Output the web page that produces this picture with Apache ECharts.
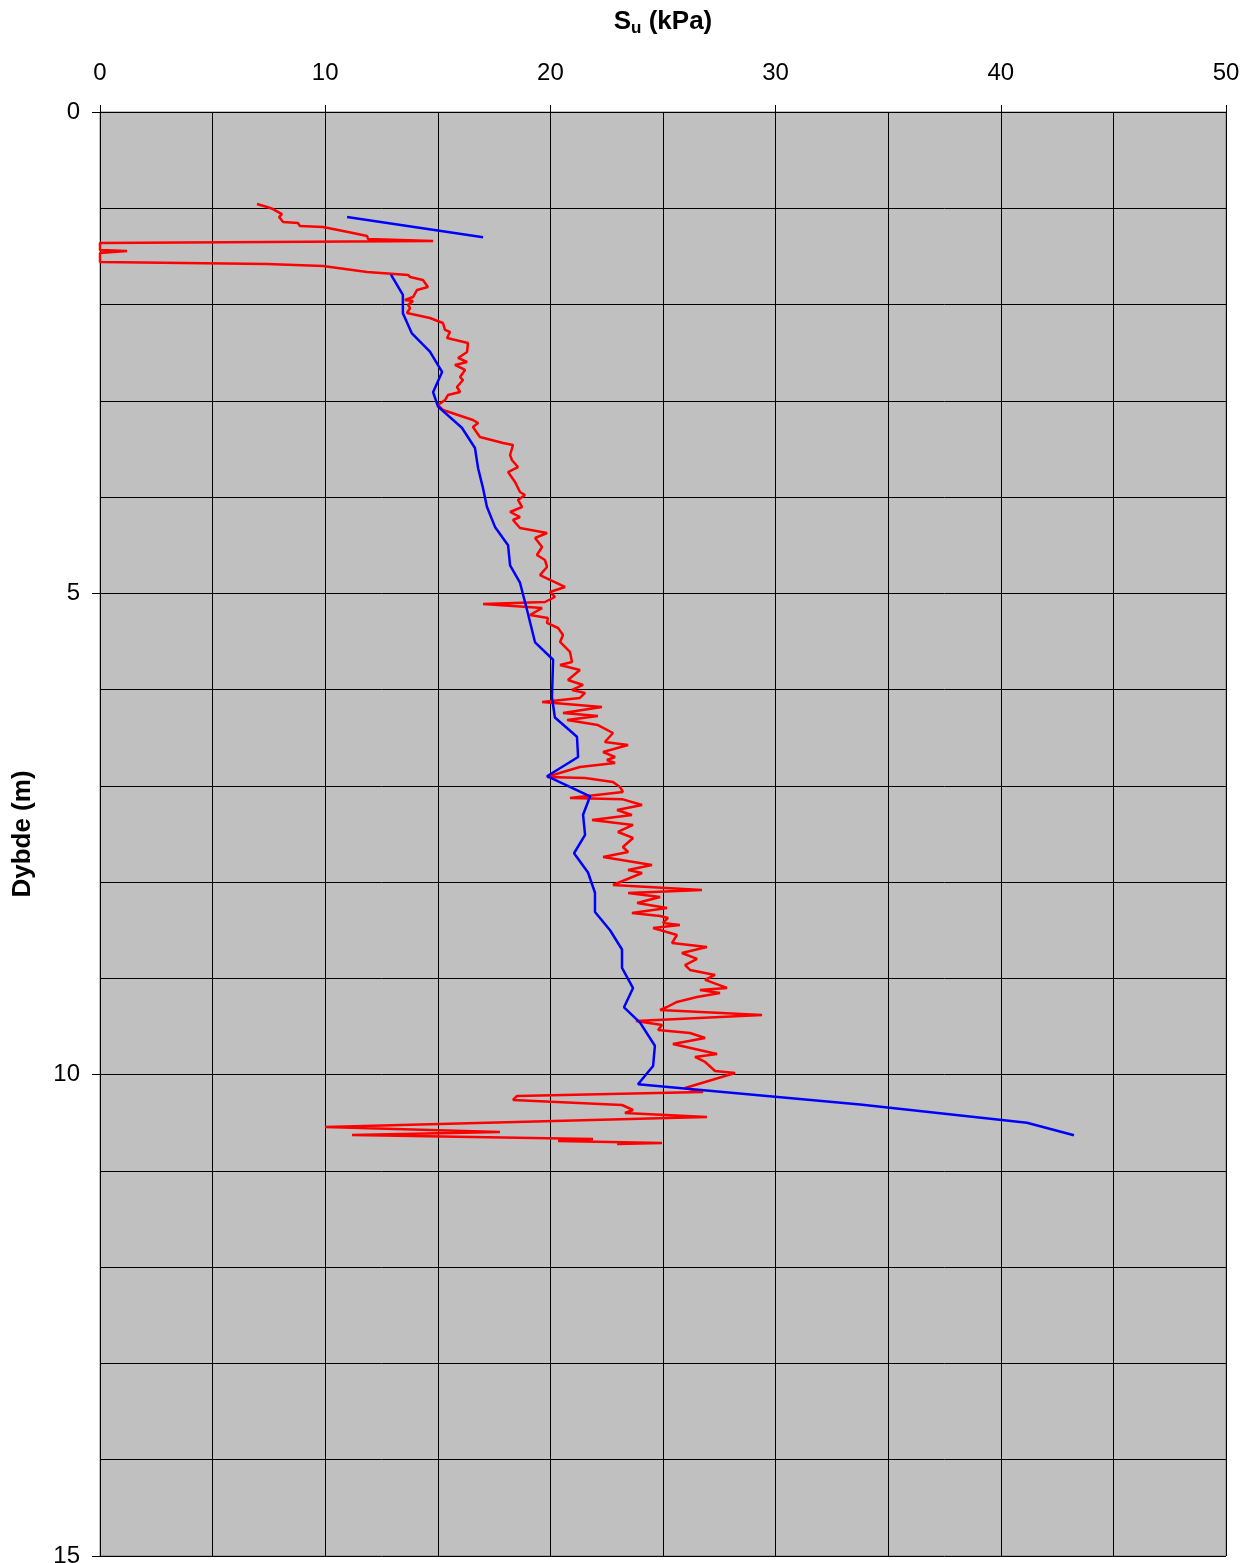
<!DOCTYPE html>
<html>
<head>
<meta charset="utf-8">
<script src="https://cdn.jsdelivr.net/npm/echarts@6/dist/echarts.min.js"></script>
<style>
  html, body { margin: 0; padding: 0; background: #fff; }
  #main { width: 1258px; height: 1563px; }
</style>
</head>
<body>
<div id="main"></div>
<script>
// Su fra CPTU (rød) - dybde i m, Su i kPa
var redDepth = [0.956, 0.987, 1.008, 1.060, 1.091, 1.143, 1.153, 1.184, 1.195, 1.226, 1.257, 1.288, 1.319, 1.340,
  1.361, 1.433, 1.444, 1.465, 1.558, 1.579, 1.600, 1.662, 1.693, 1.714, 1.745, 1.818, 1.849, 1.922, 1.953, 1.963,
  2.005, 2.036, 2.088, 2.140, 2.192, 2.264, 2.285, 2.348, 2.399, 2.493, 2.555, 2.597, 2.628, 2.680, 2.753, 2.784,
  2.857, 2.909, 2.940, 2.992, 3.044, 3.095, 3.199, 3.231, 3.272, 3.376, 3.438, 3.459, 3.563, 3.615, 3.688, 3.740,
  3.843, 3.947, 3.978, 4.030, 4.103, 4.155, 4.207, 4.238, 4.321, 4.373, 4.425, 4.519, 4.602, 4.654, 4.726, 4.810,
  4.861, 4.934, 4.986, 5.038, 5.090, 5.111, 5.121, 5.153, 5.225, 5.256, 5.308, 5.360, 5.433, 5.505, 5.609, 5.713,
  5.744, 5.796, 5.900, 5.952, 6.004, 6.035, 6.087, 6.129, 6.181, 6.243, 6.274, 6.316, 6.368, 6.451, 6.544, 6.575,
  6.648, 6.700, 6.731, 6.762, 6.804, 6.856, 6.907, 6.918, 6.960, 7.011, 7.063, 7.126, 7.140, 7.199, 7.251, 7.303,
  7.355, 7.406, 7.479, 7.541, 7.635, 7.687, 7.739, 7.822, 7.874, 7.905, 8.030, 8.082, 8.113, 8.154, 8.217, 8.269,
  8.320, 8.352, 8.372, 8.424, 8.445, 8.476, 8.549, 8.632, 8.674, 8.736, 8.798, 8.861, 8.912, 8.964, 9.016, 9.099,
  9.120, 9.151, 9.193, 9.245, 9.297, 9.328, 9.380, 9.442, 9.484, 9.536, 9.567, 9.619, 9.681, 9.785, 9.816, 9.868,
  9.962, 9.982, 10.076, 10.138, 10.180, 10.221, 10.263, 10.315, 10.367, 10.398, 10.439, 10.543, 10.595, 10.626,
  10.668, 10.689, 10.709, 10.720];
var redSu = [6.97, 7.42, 7.68, 8.08, 7.95, 8.13, 8.79, 8.88, 9.90, 10.57, 11.23, 11.86, 11.90, 14.79,
  0, 0, 1.20, 0, 0, 7.42, 9.90, 11.86, 13.68, 13.77, 14.34, 14.56, 14.08, 13.90, 13.54, 13.90,
  13.68, 13.77, 13.63, 14.65, 15.23, 15.32, 15.54, 15.41, 16.34, 16.30, 15.90, 16.30, 15.76, 16.21, 15.99, 16.12,
  15.85, 15.99, 15.45, 15.32, 15.01, 15.23, 16.56, 16.79, 16.56, 16.87, 17.90, 18.34, 18.21, 18.29, 18.56, 18.12,
  18.43, 18.65, 18.87, 18.56, 18.74, 18.21, 18.65, 18.34, 18.65, 19.85, 19.32, 19.63, 19.40, 19.76, 19.85, 19.54,
  19.98, 20.65, 19.98, 20.20, 19.76, 17.01, 17.01, 19.63, 19.09, 19.89, 19.85, 20.34, 20.56, 20.43, 20.87, 20.96,
  20.43, 21.31, 20.78, 21.45, 20.96, 21.54, 21.31, 19.63, 22.29, 20.56, 22.11, 20.74, 22.11, 22.78, 22.42, 23.45,
  22.34, 22.87, 22.51, 22.87, 21.31, 20.56, 19.85, 21.54, 22.78, 23.09, 23.22, 20.87, 23.22, 24.07, 22.96, 23.62,
  21.85, 23.67, 23.00, 23.67, 23.22, 23.45, 22.34, 24.51, 23.45, 24.07, 22.78, 26.73, 23.45, 24.87, 23.85, 25.18,
  23.62, 24.87, 25.22, 25.00, 25.75, 24.56, 25.62, 25.40, 26.95, 25.84, 26.51, 25.98, 26.20, 27.31, 26.87, 27.84,
  26.64, 27.53, 26.51, 25.62, 25.18, 24.87, 29.40, 23.80, 24.96, 24.78, 26.20, 26.87, 25.44, 27.40, 26.42, 26.87,
  27.31, 28.20, 26.87, 25.98, 26.78, 18.52, 18.34, 23.18, 23.67, 23.31, 26.95, 9.99, 17.76, 11.19,
  21.89, 20.34, 24.96, 22.96];

// Su fra vingeboring (blå), null = brudd i linjen
var blueDepth = [1.09, 1.30, null, 1.69, 1.90, 2.09, 2.30, 2.49, 2.70, 2.91, 3.06, 3.28, 3.49, 3.70, 3.91, 4.10,
  4.31, 4.50, 4.71, 4.89, 5.17, 5.51, 5.69, 6.08, 6.29, 6.49, 6.70, 6.90, 7.11, 7.30, 7.51, 7.70, 7.90, 8.11,
  8.31, 8.50, 8.70, 8.89, 9.10, 9.30, 9.46, 9.70, 9.91, 10.10, 10.31, 10.50, 10.63];
var blueSu = [10.97, 17.01, null, 12.92, 13.45, 13.45, 13.85, 14.65, 15.19, 14.79, 15.01, 16.07, 16.65, 16.79, 17.01, 17.18,
  17.54, 18.12, 18.21, 18.65, 18.96, 19.32, 20.12, 20.07, 20.20, 21.18, 21.23, 19.85, 21.76, 21.45, 21.54, 21.05, 21.67, 21.98,
  21.98, 22.65, 23.18, 23.18, 23.67, 23.27, 23.98, 24.64, 24.56, 23.89, 33.75, 41.16, 43.25];

function pairs(su, depth) {
  return su.map(function (v, i) {
    return v === null ? ['-', '-'] : [v, depth[i]];
  });
}

var chart = echarts.init(document.getElementById('main'));
var labelFont = 'Liberation Sans, Arial, sans-serif';

var option = {
  backgroundColor: '#ffffff',
  animation: false,
  grid: {
    left: 100, right: 32, top: 112, bottom: 7,
    outerBoundsMode: 'none',
    containLabel: false,
    show: true,
    backgroundColor: '#c0c0c0',
    borderColor: '#808080',
    borderWidth: 1
  },
  xAxis: {
    type: 'value',
    position: 'top',
    min: 0, max: 50, interval: 10,
    name: '{b|S}{s|u}{b| (kPa)}',
    nameLocation: 'middle',
    nameGap: 75,
    nameTextStyle: {
      fontFamily: labelFont, fontWeight: 'bold', fontSize: 26, color: '#000',
      rich: {
        b: { fontFamily: labelFont, fontWeight: 'bold', fontSize: 26, color: '#000' },
        s: { fontFamily: labelFont, fontWeight: 'bold', fontSize: 17, color: '#000', padding: [14, 0, 0, 0] }
      }
    },
    axisLine: { show: true, lineStyle: { color: '#000', width: 1 } },
    axisTick: { show: true, inside: false, length: 7, lineStyle: { color: '#000' } },
    axisLabel: { margin: 27, fontFamily: labelFont, fontSize: 24, color: '#000' },
    splitLine: { show: true, lineStyle: { color: '#000', width: 1 } },
    minorTick: { show: false, splitNumber: 2 },
    minorSplitLine: { show: true, lineStyle: { color: '#000', width: 1 } }
  },
  yAxis: {
    type: 'value',
    inverse: true,
    min: 0, max: 15, interval: 5,
    name: 'Dybde (m)',
    nameLocation: 'middle',
    nameGap: 64,
    nameTextStyle: { fontFamily: labelFont, fontWeight: 'bold', fontSize: 26, color: '#000' },
    axisLine: { show: true, lineStyle: { color: '#000', width: 1 } },
    axisTick: { show: true, inside: false, length: 8, lineStyle: { color: '#000' } },
    axisLabel: { margin: 20, fontFamily: labelFont, fontSize: 24, color: '#000' },
    splitLine: { show: true, lineStyle: { color: '#000', width: 1 } },
    minorTick: { show: false, splitNumber: 5 },
    minorSplitLine: { show: true, lineStyle: { color: '#000', width: 1 } }
  },
  series: [
    {
      name: 'CPTU',
      type: 'line',
      showSymbol: false,
      symbol: 'none',
      lineStyle: { color: '#ff0000', width: 2.5 },
      data: pairs(redSu, redDepth),
      z: 3
    },
    {
      name: 'Vingebor',
      type: 'line',
      showSymbol: false,
      symbol: 'none',
      connectNulls: false,
      lineStyle: { color: '#0000ff', width: 2.5 },
      data: pairs(blueSu, blueDepth),
      z: 4
    }
  ]
};
chart.setOption(option);
</script>
</body>
</html>
